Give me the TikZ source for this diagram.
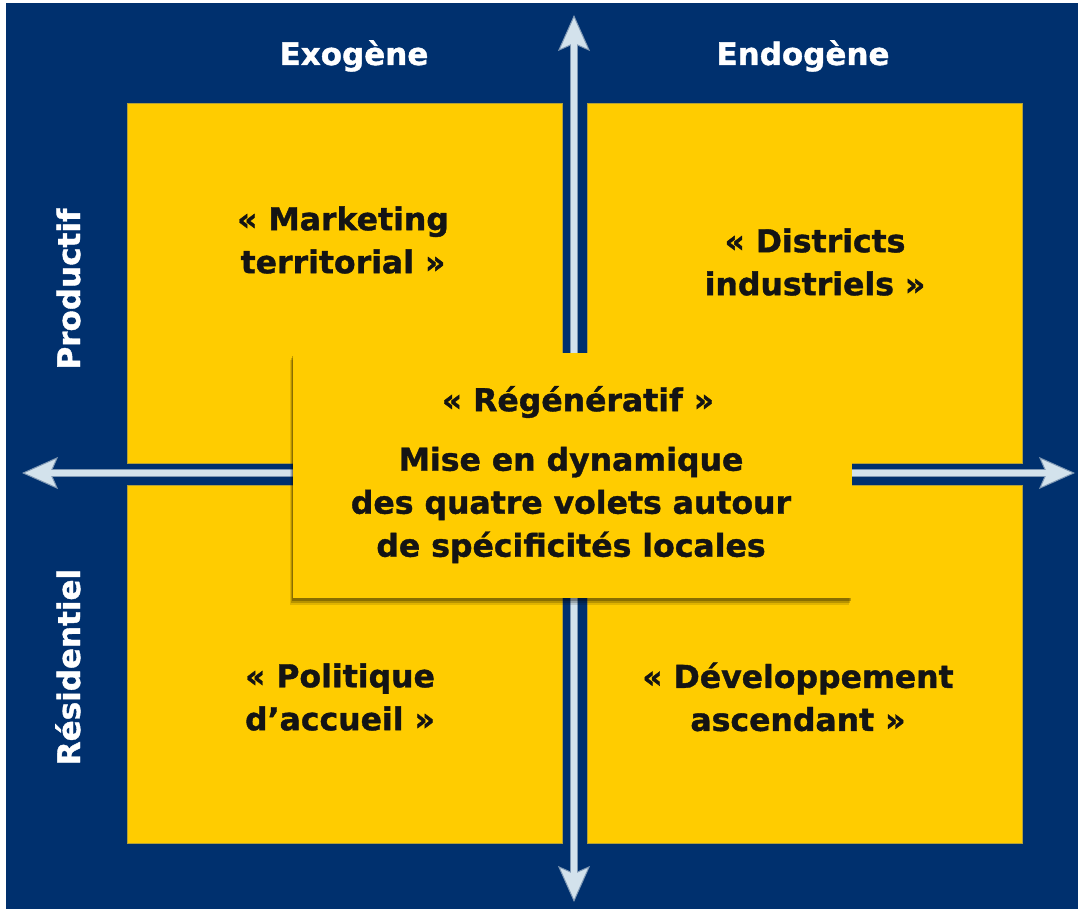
\documentclass[tikz,border=0pt]{standalone}
\usepackage{fontspec}
\setmainfont{DejaVu Sans}[BoldFeatures={FakeBold=1.2}]
\usepackage{tikz}
\usetikzlibrary{positioning, arrows.meta, shadows}
\definecolor{navy}{HTML}{00306E}
\definecolor{gold}{HTML}{FFCC00}
\definecolor{goldedge}{HTML}{B3A038}
\definecolor{axisfill}{HTML}{D3E2EC}
\definecolor{axisedge}{HTML}{7F98B4}
\tikzset{every picture/.style={line width=0.75pt}}

\begin{document}
\begin{tikzpicture}[x=1pt, y=-1pt, node distance=22pt and 25pt,
    quad/.style={draw=goldedge, line width=0.6pt, fill=gold, inner sep=0pt, minimum width=435pt, minimum height=360pt},
    hub/.style={fill=gold, inner sep=0pt, minimum width=559pt, minimum height=245pt,
        drop shadow={shadow xshift=-3pt, shadow yshift=-7pt, opacity=.12, fill=black},
        drop shadow={shadow xshift=-2pt, shadow yshift=-5pt, opacity=.18, fill=black},
        drop shadow={shadow xshift=-1pt, shadow yshift=-3pt, opacity=.25, fill=black}},
    txt/.style={font=\bfseries\fontsize{31.5}{43}\selectfont, align=center, text=black!92},
    head/.style={font=\bfseries\fontsize{31}{36}\selectfont, text=white, anchor=base},
    axistip/.tip={Stealth[length=36pt, width=32pt, inset=7pt, line width=1pt, fill=axisfill]},
    axis/.style={draw=axisedge, line width=7.5pt, axistip-axistip},
    axiscore/.style={draw=axisfill, line width=5.5pt, shorten <=20pt, shorten >=20pt}]
        \useasboundingbox (0,0) rectangle (1078,909);
        \fill[navy] (6,3) rectangle (1078,909);
        % quadrants
        \node[quad] (tl) at (344.5,283) {};
        \node[quad,right=of tl] (tr) {};
        \node[quad,below=of tl,minimum height=358pt] (bl) {};
        \node[quad,below=of tr,minimum height=358pt] (br) {};
        % axes
        \coordinate (n) at (574,15);
        \coordinate (s) at (574,902);
        \coordinate (w) at (22,473);
        \coordinate (e) at (1075,473);
        \draw[axis] (s) -- (n);
        \draw[axiscore] (s) -- (n);
        \draw[axis] (w) -- (e);
        \draw[axiscore] (w) -- (e);
        % centre
        \node[hub] (hub) at (572.5,475.5) {};
        \node[txt] (regen) at (578,402) {«~Régénératif~»};
        \node[txt] (mise) at (571,505) {Mise en dynamique\\des quatre volets autour\\de spécificités locales};
        % labels
        \node[txt] (mkt) at (343,240) {«~Marketing\\territorial~»};
        \node[txt] (dist) at (815,262) {«~Districts\\industriels~»};
        \node[txt] (poli) at (340,697) {«~Politique\\d’accueil~»};
        \node[txt] (dev) at (798,697) {«~Développement\\ascendant~»};
        \node[head] (exo) at (354,65) {Exogène};
        \node[head] (endo) at (803,65) {Endogène};
        \node[head,rotate=90] (prod) at (80,289) {Productif};
        \node[head,rotate=90] (resi) at (80,667) {Résidentiel};
    \end{tikzpicture}
\end{document}
